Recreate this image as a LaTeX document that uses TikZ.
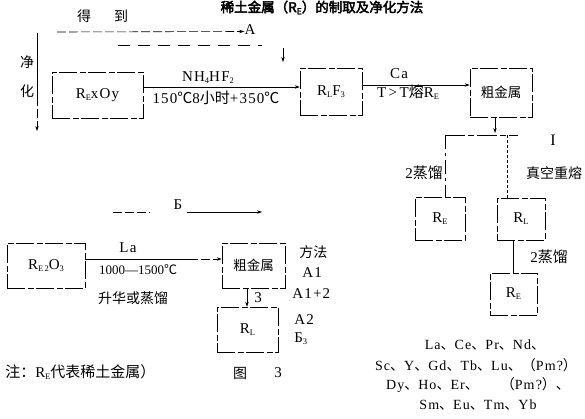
\documentclass[tikz,border=0pt]{standalone}
\usepackage{fontspec}
\usepackage{graphicx}
\setmainfont{Liberation Serif}[LetterSpace=8]
\newfontfamily\cjk{Noto Sans CJK SC}
\newfontfamily\cjkb{Noto Sans CJK SC}[FakeBold=3]
\usetikzlibrary{arrows.meta}
\newcommand\lo[1]{\raisebox{-0.3ex}{\fontsize{8.5}{9}\selectfont #1}}
\newcommand\cj[1]{{\cjk #1}}
\tikzset{
  bx/.style={draw, dash pattern=on 18pt off 2.5pt on 6pt off 2.5pt, inner sep=0pt},
  dl/.style={dash pattern=on 9pt off 3pt},
  dt/.style={dash pattern=on 2.5pt off 2.5pt},
  lbl/.style={inner sep=0pt},
  cn/.style={inner sep=0pt, font=\fontsize{14}{16}\cjk},
  el/.style={inner sep=0pt, font=\fontsize{14}{16}\selectfont},
  >={Stealth[length=5pt,width=3.4pt]}
}
\begin{document}
\begin{tikzpicture}[x=1pt,y=-1pt,line width=0.6pt,font=\fontsize{15}{17}\selectfont]
\useasboundingbox (0,0) rectangle (585,418);
% title
\node[lbl,font=\fontsize{13.5}{15}\cjkb] (title) at (322,7.5) {稀土金属（R\lo{E}）的制取及净化方法};
% top header
\node[cn] (de) at (84,16) {得};
\node[cn] (dao) at (121,16) {到};
\node[lbl] (A) at (250,30) {A};
\coordinate (aS) at (57,32);
\draw[dl,->] (aS) -- ([yshift=-1.5pt]A.west);
\coordinate (d1) at (118,45);
\coordinate (d2) at (262,45);
\draw[dash pattern=on 12pt off 8pt] (d1) -- (d2);
% boxes
\node[bx, minimum width=91pt, minimum height=46pt] (b1) at (97.5,95) {R\lo{E}xOy};
\node[bx, minimum width=62pt, minimum height=47pt] (b2) at (331,91.5) {R\lo{L}F\lo{3}};
\node[bx, minimum width=62pt, minimum height=49pt, font=\fontsize{13.5}{15}\cjk] (b3) at (501,92.5) {粗金属};
\node[bx, minimum width=50pt, minimum height=43pt] (b4) at (440,218.5) {R\lo{E}};
\node[bx, minimum width=48pt, minimum height=42pt] (b5) at (521,219) {R\lo{L}};
\node[bx, minimum width=47pt, minimum height=42pt] (b6) at (513.5,294) {R\lo{E}};
\node[bx, minimum width=78pt, minimum height=45pt] (b7) at (46,265.5) {R\lo{E\,2}O\lo{3}};
\node[bx, minimum width=63pt, minimum height=45pt, font=\fontsize{13.5}{15}\cjk] (b8) at (253.5,265.5) {粗金属};
\node[bx, minimum width=61pt, minimum height=45pt] (b9) at (247.5,329.5) {R\lo{L}};
% small arrow into b2
\coordinate (s1) at (283,48);
\coordinate (s2) at (283,62);
\draw[->] (s1) -- (s2);
% left purification line
\coordinate (v1) at (37,33);
\coordinate (v2) at (37,97);
\coordinate (v3) at (37,131);
\draw (v1) -- (v2);
\draw[dl,->] (v2) -- (v3);
\node[cn] (jing) at (27,62) {净};
\node[cn] (hua) at (27,91) {化};
% b1 -> b2
\draw[->] ([yshift=8pt]b1.east) -- ([yshift=8pt]b1.east -| b2.west);
\node[lbl] (nh) at (208,78) {NH\lo{4}HF\lo{2}};
\node[lbl] (t1) at (216,98) {150\cj{℃}8\cj{小时}+350\cj{℃}};
% b2 -> b3
\draw[->] ([yshift=6.5pt]b2.east) -- ([yshift=6.5pt]b2.east -| b3.west);
\node[lbl] (ca) at (399,74) {Ca};
\node[lbl] (tt) at (408,92) {T\,>\,T\cj{熔}R\lo{E}};
% b3 down and split
\coordinate (j0) at (495,117);
\coordinate (j1) at (495,133);
\draw[->] (j0) -- (j1);
\coordinate (hl) at (445,135);
\coordinate (hr) at (518,135);
\draw[dash pattern=on 20pt off 3pt on 6pt off 3pt] (hl) -- (hr);
\node[lbl,font=\fontsize{16}{17}\selectfont] (I) at (553,140) {I};
\draw[dash pattern=on 14pt off 4pt on 3pt off 4pt] (hl) -- (hl |- b4.north);
\coordinate (rb) at (507,135);
\draw[dt] (rb) -- (rb |- b5.north);
\node[lbl] (l2a) at (424,173) {2\cj{蒸馏}};
\node[cn] (zk) at (554,173) {真空重熔};
\draw ([xshift=-8pt]b5.south) -- ([xshift=-8pt]b5.south |- b6.north);
\node[lbl] (l2b) at (549,257) {2\cj{蒸馏}};
% lower part
\coordinate (bS) at (113,212);
\coordinate (bM) at (150,212);
\node[lbl] (B) at (178,205) {Б};
\coordinate (bE) at (262,212);
\draw[dl] (bS) -- (bM);
\draw[->] (187,212) -- (bE);
\draw ([yshift=6.5pt]b7.east) -- ++(104,0) coordinate (m1);
\draw[dl,->] (m1) -- (m1 -| b8.west);
\node[lbl] (la) at (128,248) {La};
\node[lbl,font=\fontsize{13}{14}\selectfont\addfontfeature{LetterSpace=0}] (tmp) at (138,270) {1000---1500\cj{℃}};
\node[cn] (sh) at (133,298) {升华或蒸馏};
\draw[->] ([xshift=-6.5pt]b8.south) -- ([xshift=-6.5pt]b8.south |- b9.north);
\node[lbl] (three) at (258,298) {3};
\node[cn,anchor=west] (ff) at (299,252) {方法};
\node[lbl,anchor=west] (m1l) at (302,273) {A1};
\node[lbl,anchor=west] (m2l) at (292,294) {A1+2};
\node[lbl,anchor=west] (m3l) at (294,320) {A2};
\node[lbl,anchor=west] (m4l) at (294,339) {Б\lo{3}};
\node[lbl,anchor=west] (note) at (5,372) {\cj{注：}R\lo{E}\cj{代表稀土金属）}};
\node[cn] (tu) at (240,373) {图};
\node[lbl] (tu3) at (278,373) {3};
% element list
\node[el] (e1) at (485,345) {La\cj{、}Ce\cj{、}Pr\cj{、}Nd\cj{、}};
\node[el] (e2) at (476,365) {Sc\cj{、}Y\cj{、}Gd\cj{、}Tb\cj{、}Lu\cj{、（}Pm?\cj{）}};
\node[el] (e3) at (478,385) {Dy\cj{、}Ho\cj{、}Er\cj{、}\hspace{22pt}\cj{（}Pm?\cj{）、}};
\node[el] (e4) at (478,405) {Sm\cj{、}Eu\cj{、}Tm\cj{、}Yb};
\end{tikzpicture}
\end{document}
